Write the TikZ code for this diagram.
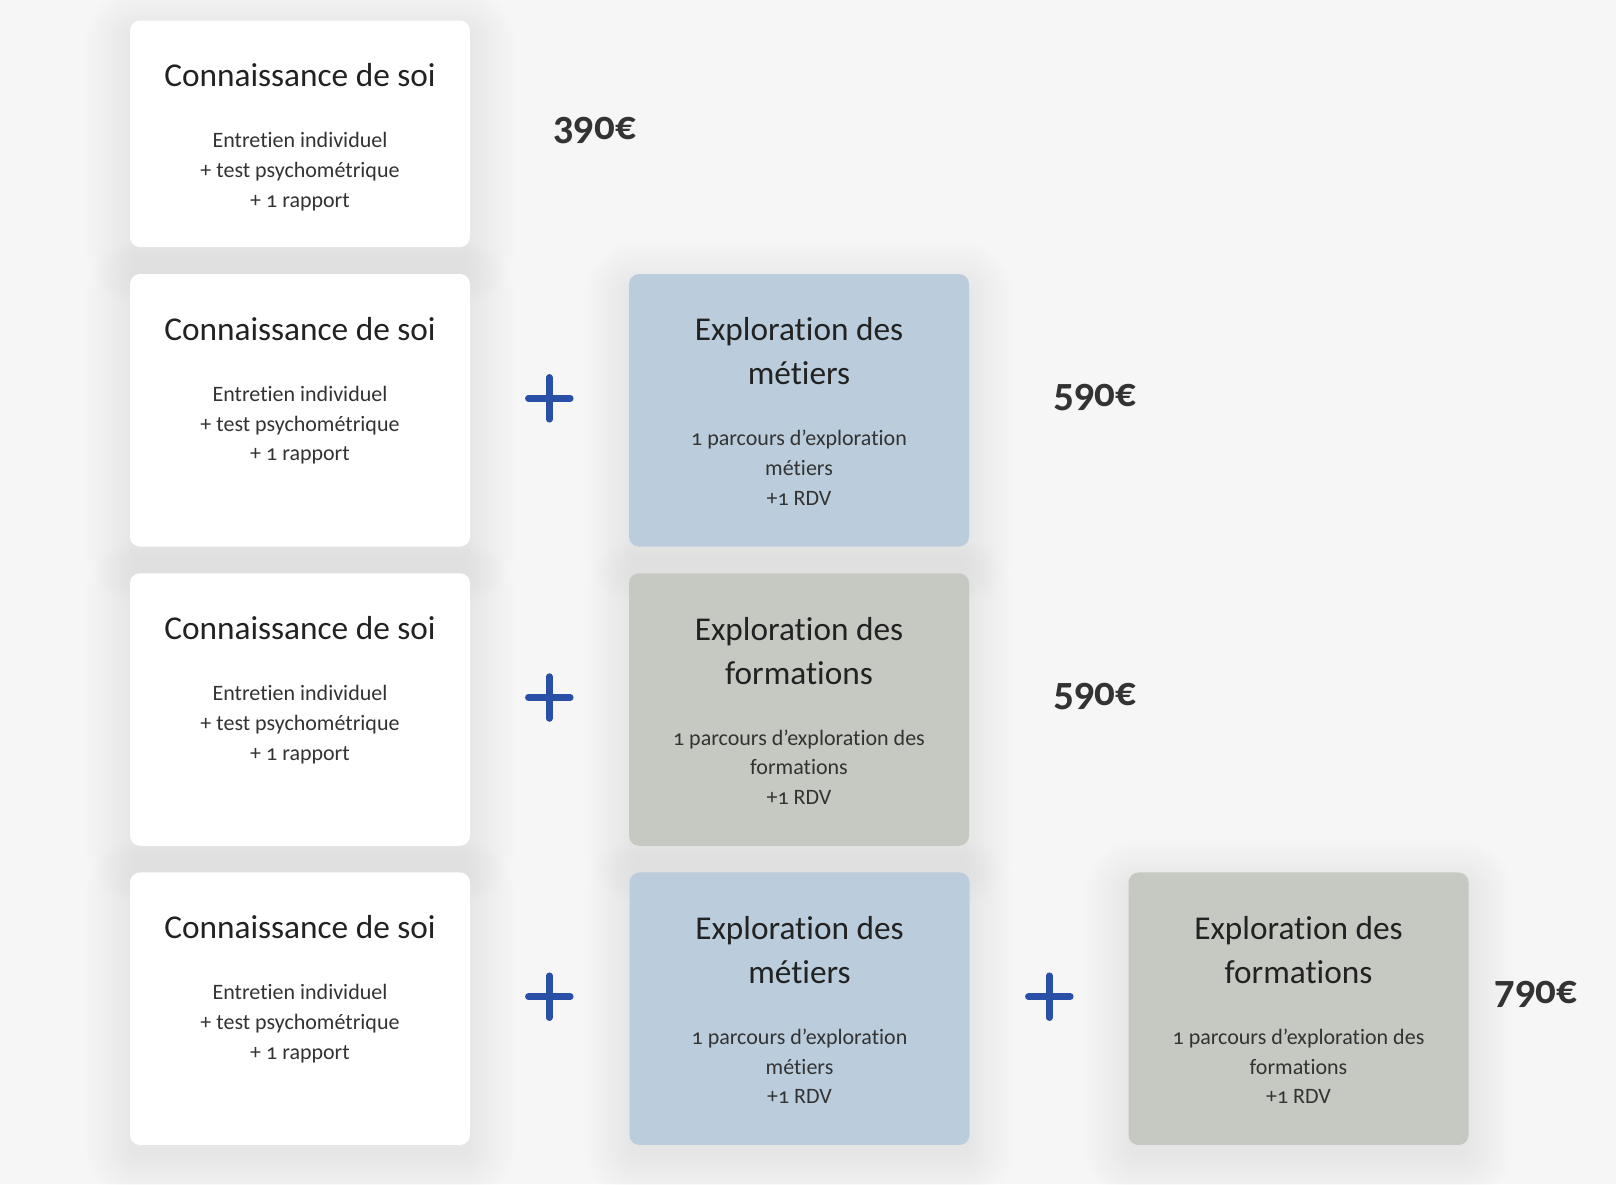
\documentclass[tikz,border=0pt]{standalone}
\usepackage{fontspec}
\setmainfont{Carlito}[Numbers=OldStyle, Ligatures=NoCommon]
\definecolor{bggrey}{HTML}{F6F6F6}
\definecolor{cardblue}{HTML}{BBCCDC}
\definecolor{cardsage}{HTML}{C5C9C1}
\definecolor{plusblue}{HTML}{2A4FA6}
\definecolor{inkdark}{HTML}{222222}
\definecolor{inkbody}{HTML}{333333}
\pgfdeclarelayer{bg}
\pgfdeclarelayer{shade}
\pgfsetlayers{bg,shade,main}
% soft shadow under a card
\newcommand{\cardshade}[1]{%
  \begin{pgfonlayer}{shade}
  \foreach \s in {0,3,...,45}
    \fill [black, opacity=0.0055, rounded corners=10+\s]
      ([xshift=-\s, yshift=-\s-12]#1.south west) rectangle ([xshift=\s, yshift=\s-12]#1.north east);
  \end{pgfonlayer}}
\begin{document}
\begin{tikzpicture}[x=1pt,y=-1pt,
  card/.style={rectangle, rounded corners=10pt, minimum width=340pt, minimum height=272.5pt,
    inner sep=0pt, fill=white},
  ttl/.style={anchor=base, align=center, inner sep=0pt, text=inkdark,
    font=\fontsize{33.3}{44}\selectfont},
  txt/.style={anchor=base, align=center, inner sep=0pt, text=inkbody,
    font=\fontsize{22}{29.7}\selectfont},
  price/.style={anchor=base west, inner sep=0pt, text=inkbody,
    font=\fontsize{41}{41}\selectfont\bfseries},
  plusbar/.style={draw=plusblue, line width=6.5pt, line cap=round}]
\begin{pgfonlayer}{bg}
\fill [bggrey] (0,0) rectangle (1616,1184);
\end{pgfonlayer}
\useasboundingbox (0,0) rectangle (1616,1184);
% row 1
\node [card, minimum height=226.5pt] (k1) at (300,133.8) {};
\cardshade{k1}
\node [ttl] (k1t) at ([yshift=-66.5]k1.north) {Connaissance de soi};
\node [txt] (k1b) at ([yshift=-187]k1.north) {Entretien individuel\\+ test psychométrique\\+ 1 rapport};
\node [price] (pr1) at (553,139) {390€};
% row 2
\node [card] (k2) at (300,410.3) {};
\cardshade{k2}
\node [ttl] (k2t) at ([yshift=-66.5]k2.north) {Connaissance de soi};
\node [txt] (k2b) at ([yshift=-187]k2.north) {Entretien individuel\\+ test psychométrique\\+ 1 rapport};
\coordinate (p2) at (549.3,398.3);
\draw [plusbar] (p2) +(-21,0) -- +(21,0) (p2) +(0,-21) -- +(0,21);
\node [card, fill=cardblue] (m2) at (799,410.3) {};
\cardshade{m2}
\node [ttl] (m2t) at ([yshift=-111]m2.north) {Exploration des\\métiers};
\node [txt] (m2b) at ([yshift=-231.5]m2.north) {1 parcours d’exploration\\métiers\\+1 RDV};
\node [price] (pr2) at (1053,406) {590€};
% row 3
\node [card] (k3) at (300,709.5) {};
\cardshade{k3}
\node [ttl] (k3t) at ([yshift=-66.5]k3.north) {Connaissance de soi};
\node [txt] (k3b) at ([yshift=-187]k3.north) {Entretien individuel\\+ test psychométrique\\+ 1 rapport};
\coordinate (p3) at (549.3,697.5);
\draw [plusbar] (p3) +(-21,0) -- +(21,0) (p3) +(0,-21) -- +(0,21);
\node [card, fill=cardsage] (f3) at (799,709.5) {};
\cardshade{f3}
\node [ttl] (f3t) at ([yshift=-111]f3.north) {Exploration des\\formations};
\node [txt] (f3b) at ([yshift=-231.5]f3.north) {1 parcours d’exploration des\\formations\\+1 RDV};
\node [price] (pr3) at (1053,705.7) {590€};
% row 4
\node [card] (k4) at (300,1008.7) {};
\cardshade{k4}
\node [ttl] (k4t) at ([yshift=-66.5]k4.north) {Connaissance de soi};
\node [txt] (k4b) at ([yshift=-187]k4.north) {Entretien individuel\\+ test psychométrique\\+ 1 rapport};
\coordinate (p4a) at (549.3,996.7);
\draw [plusbar] (p4a) +(-21,0) -- +(21,0) (p4a) +(0,-21) -- +(0,21);
\node [card, fill=cardblue] (m4) at (799.5,1008.7) {};
\cardshade{m4}
\node [ttl] (m4t) at ([yshift=-111]m4.north) {Exploration des\\métiers};
\node [txt] (m4b) at ([yshift=-231.5]m4.north) {1 parcours d’exploration\\métiers\\+1 RDV};
\coordinate (p4b) at (1049.3,996.7);
\draw [plusbar] (p4b) +(-21,0) -- +(21,0) (p4b) +(0,-21) -- +(0,21);
\node [card, fill=cardsage] (f4) at (1298.5,1008.7) {};
\cardshade{f4}
\node [ttl] (f4t) at ([yshift=-111]f4.north) {Exploration des\\formations};
\node [txt] (f4b) at ([yshift=-231.5]f4.north) {1 parcours d’exploration des\\formations\\+1 RDV};
\node [price] (pr4) at (1494,1003) {790€};
\end{tikzpicture}
\end{document}
